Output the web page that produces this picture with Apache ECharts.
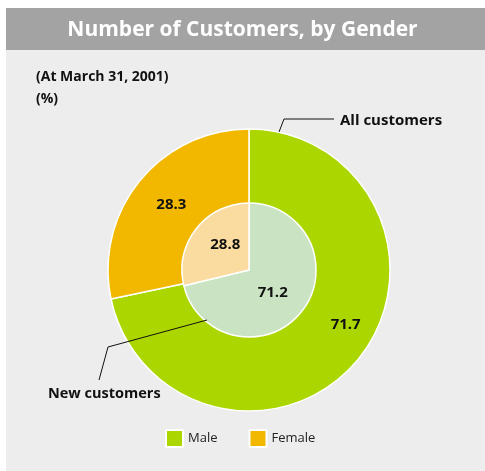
<!DOCTYPE html>
<html><head><meta charset="utf-8">
<script src="https://cdn.jsdelivr.net/npm/echarts@6/dist/echarts.min.js"></script>
<style>html,body{margin:0;padding:0;background:#fff}#c{width:485px;height:471px}</style>
</head><body><div id="c"></div>
<script>
const categories = ['Male', 'Female'];
const allCustomers = [71.7, 28.3];
const newCustomers = [71.2, 28.8];
const outerColors = ['#acd600', '#f2b800'];
const innerColors = ['#c9e3c3', '#fadca0'];
const outerLabelOffsets = [[14, -12], [5, 2]];
const innerLabelOffsets = [[-5, 0], [5, -3]];
const FONT = '"Open Sans", "Noto Sans", sans-serif';

const chart = echarts.init(document.getElementById('c'), null, {renderer: 'canvas'});
const lbl = {show: true, position: 'inside', color: '#111', fontWeight: 'bold', fontSize: 15, fontFamily: FONT, formatter: '{c}'};
chart.setOption({
  animation: false,
  textStyle: {fontFamily: FONT},
  graphic: [
    {type: 'rect', shape: {x: 6, y: 8, width: 479, height: 463}, style: {fill: '#ededed'}, z: -10},
    {type: 'rect', shape: {x: 6, y: 8, width: 479, height: 42}, style: {fill: '#a3a3a3'}, z: -9},
    {type: 'text', left: 'center', top: 20, style: {text: 'Number of Customers, by Gender', fill: '#fff', font: 'bold 21px ' + FONT}},
    {type: 'text', x: 36, y: 70, style: {text: '(At March 31, 2001)', fill: '#111', font: 'bold 14px ' + FONT}},
    {type: 'text', x: 36, y: 92, style: {text: '(%)', fill: '#111', font: 'bold 14px ' + FONT}},
    {type: 'polyline', shape: {points: [[279, 132], [284, 119], [334, 119]]}, style: {stroke: '#111', lineWidth: 1, fill: null}, z: 100},
    {type: 'text', x: 340, y: 113, style: {text: 'All customers', fill: '#111', font: 'bold 15px ' + FONT}},
    {type: 'polyline', shape: {points: [[207, 320], [108, 347], [99, 380]]}, style: {stroke: '#111', lineWidth: 1, fill: null}, z: 100},
    {type: 'text', x: 48, y: 386, style: {text: 'New customers', fill: '#111', font: 'bold 14.5px ' + FONT}}
  ],
  legend: {
    data: categories, left: 165, top: 429, padding: 0, itemWidth: 17, itemHeight: 17, itemGap: 31,
    icon: 'rect', textStyle: {fontSize: 13, color: '#222', fontFamily: FONT}
  },
  series: [
    {
      name: 'All customers', type: 'pie', center: [249, 270], radius: [66, 141],
      startAngle: 90, clockwise: true, silent: true,
      itemStyle: {borderColor: '#fff', borderWidth: 1.5},
      label: lbl,
      labelLine: {show: false},
      data: categories.map((c, i) => ({name: c, value: allCustomers[i], itemStyle: {color: outerColors[i]},
        label: {offset: outerLabelOffsets[i]}}))
    },
    {
      name: 'New customers', type: 'pie', center: [249, 270], radius: [0, 67],
      startAngle: 90, clockwise: true, silent: true, z: 3,
      itemStyle: {borderColor: '#fff', borderWidth: 1.5},
      label: lbl,
      labelLine: {show: false},
      data: categories.map((c, i) => ({name: c, value: newCustomers[i], itemStyle: {color: innerColors[i]},
        label: {offset: innerLabelOffsets[i]}}))
    }
  ]
});
</script></body></html>
